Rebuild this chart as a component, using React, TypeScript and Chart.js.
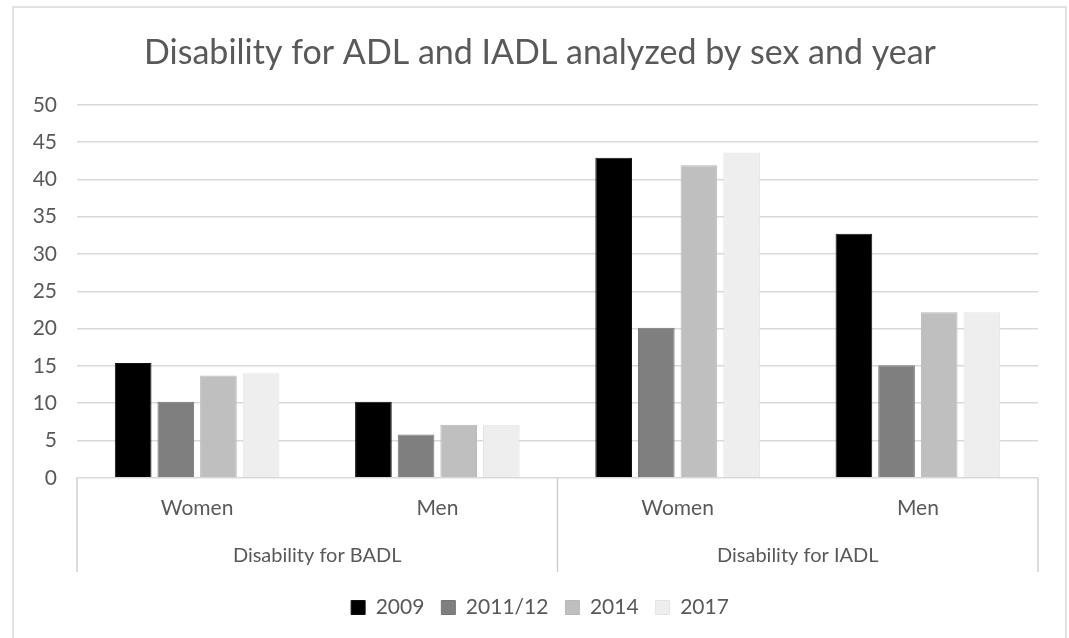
import React, { useEffect, useRef } from "react";
import { Chart, registerables } from "chart.js";

Chart.register(...registerables);

// Sub-categories (sex) and their parent groups
const sexLabels = ["Women", "Men", "Women", "Men"];
const groupLabels = ["Disability for BADL", "Disability for IADL"];

// Survey years
const years = ["2009", "2011/12", "2014", "2017"];

// Percentages per year, ordered as sexLabels
const values2009 = [15.4, 10.2, 42.9, 32.7];
const values2011 = [10.2, 5.8, 20.1, 15.1];
const values2014 = [13.7, 7.1, 41.9, 22.2];
const values2017 = [14.0, 7.1, 43.6, 22.2];

const yTicks = [0, 5, 10, 15, 20, 25, 30, 35, 40, 45, 50];

const TEXT = "#595959";
const FONT = "Lato, 'Open Sans', sans-serif";

// Outer frame plus the vertical separators of the grouped category axis
const framePlugin = {
  id: "frame",
  beforeDraw(chart: any) {
    const ctx = chart.ctx;
    ctx.save();
    ctx.fillStyle = "#ffffff";
    ctx.fillRect(0, 0, chart.width, chart.height);
    ctx.strokeStyle = "#d9d9d9";
    ctx.lineWidth = 1.5;
    ctx.strokeRect(13, 7, 1053, 640);
    ctx.restore();
  },
  afterDraw(chart: any) {
    const ctx = chart.ctx;
    const x = chart.scales.x;
    const x2 = chart.scales.x2;
    const top = chart.chartArea.bottom;
    const bottom = x2.bottom - 8;
    const mid = (x.getPixelForValue(1) + x.getPixelForValue(2)) / 2;
    ctx.save();
    ctx.strokeStyle = "#d0d0d0";
    ctx.lineWidth = 1.5;
    [x.left, mid, x.right].forEach((px: number) => {
      ctx.beginPath();
      ctx.moveTo(px, top);
      ctx.lineTo(px, bottom);
      ctx.stroke();
    });
    ctx.restore();
  },
};

export default function App() {
  const canvasRef = useRef<HTMLCanvasElement | null>(null);

  useEffect(() => {
    if (!canvasRef.current) return;
    const series = [values2009, values2011, values2014, values2017];
    const fills = ["#000000", "#7f7f7f", "#bfbfbf", "#eeeeee"];
    const edges = ["#111111", "#777777", "#b8b8b8", "#e4e4e4"];
    const chart = new Chart(canvasRef.current, {
      type: "bar",
      data: {
        labels: sexLabels,
        datasets: years.map((y, i) => ({
          label: y,
          data: series[i],
          backgroundColor: fills[i],
          borderColor: edges[i],
          borderWidth: 1,
          categoryPercentage: 0.71,
          barPercentage: 0.86,
          xAxisID: "x",
          yAxisID: "y",
        })),
      },
      options: {
        responsive: false,
        animation: false,
        layout: { padding: { left: 32, right: 21, top: 0, bottom: 10 } },
        plugins: {
          title: {
            display: true,
            text: "Disability for ADL and IADL analyzed by sex and year",
            color: TEXT,
            font: { family: FONT, size: 34, weight: "normal" },
            padding: { top: 33, bottom: 31 },
          },
          legend: {
            position: "bottom",
            labels: {
              color: TEXT,
              font: { family: FONT, size: 21 },
              boxWidth: 14,
              boxHeight: 14,
              padding: 17,
            },
          },
          tooltip: { enabled: false },
        },
        scales: {
          x: {
            type: "category",
            position: "bottom",
            grid: { display: false },
            border: { display: false },
            ticks: {
              color: TEXT,
              font: { family: FONT, size: 21 },
              padding: 10,
            },
          },
          x2: {
            type: "category",
            position: "bottom",
            labels: groupLabels,
            offset: true,
            grid: { display: false, drawTicks: false },
            border: { display: false },
            ticks: {
              color: TEXT,
              font: { family: FONT, size: 20, lineHeight: 1.2 },
              padding: 12.5,
            },
          },
          y: {
            min: 0,
            max: 50,
            afterBuildTicks: (scale: any) => {
              scale.ticks = yTicks.map((v) => ({ value: v }));
            },
            afterFit: (scale: any) => {
              scale.width = 45;
            },
            grid: { color: "#d9d9d9", lineWidth: 1.5, drawTicks: false },
            border: { display: false },
            ticks: {
              color: TEXT,
              font: { family: FONT, size: 21 },
              padding: 20,
            },
          },
          // empty right-hand gutter so the plot ends where the frame needs it
          gutter: {
            type: "linear",
            position: "right",
            display: true,
            grid: { display: false, drawTicks: false },
            border: { display: false },
            ticks: { display: false },
            afterFit: (scale: any) => {
              scale.width = 10;
            },
          },
        },
      },
      plugins: [framePlugin],
    });
    return () => chart.destroy();
  }, []);

  return (
    <div style={{ position: "absolute", left: 0, top: 0, width: 1069, height: 638 }}>
      <canvas ref={canvasRef} width={1069} height={638} />
    </div>
  );
}
